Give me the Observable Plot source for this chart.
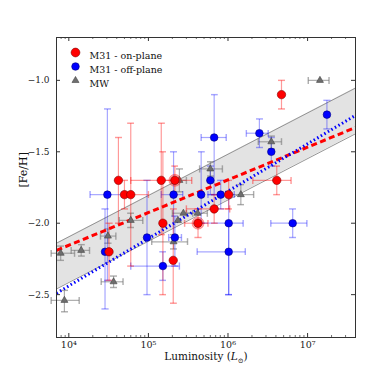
<!DOCTYPE html>
<html><head><meta charset="utf-8">
<script src="https://cdn.jsdelivr.net/npm/d3@7"></script>
<script src="https://cdn.jsdelivr.net/npm/@observablehq/plot@0.6"></script>
<style>body{margin:0;background:#fff}</style>
</head><body><div id="chart"></div>
<script>
// ---- M31 on-plane ----
const onL   = [4.7e6, 4.2e4, 5.0e4, 6.0e4, 1.45e5, 1.52e5, 2.15e5, 2.05e5, 4.2e5, 6.7e5, 1.02e6, 4.1e6, 3.2e4];
const onFe  = [-1.10, -1.70, -1.80, -1.80, -1.70, -2.00, -1.70, -2.26, -2.00, -1.90, -1.80, -1.70, -2.20];
const onYLo = [-1.20, -2.00, -1.90, -2.30, -2.08, -2.50, -1.80, -2.56, -2.10, -2.00, -1.90, -1.80, -2.40];
const onYHi = [-1.00, -1.40, -1.70, -1.30, -1.30, -1.50, -1.60, -1.90, -1.90, -1.80, -1.70, -1.60, -2.00];
const onXLo = [null, null, null, 5.5e4, 6.0e4, null, 1.5e5, null, 2.85e5, 3.0e5, null, 2.05e6, null];
const onXHi = [null, null, null, 1.0e5, 2.1e5, null, 3.5e5, null, 5.6e5, 1.05e6, null, 6.2e6, null];
const ringL  = [2.15e5, 4.2e5];
const ringFe = [-1.70, -2.00];

// ---- M31 off-plane ----
const offL   = [3.05e4, 2.85e4, 9.6e4, 1.52e5, 2.07e5, 2.15e5, 4.6e5, 6.0e5, 6.7e5, 8.1e5, 1.02e6, 1.02e6, 2.48e6, 3.5e6, 6.5e6, 1.75e7];
const offFe  = [-1.80, -2.20, -2.10, -2.30, -1.80, -2.10, -1.80, -1.70, -1.40, -1.80, -2.00, -2.20, -1.37, -1.50, -2.00, -1.24];
const offYLo = [-2.40, -2.60, -2.50, -2.40, -2.10, -2.30, -2.00, -1.80, -1.80, -1.90, -2.50, -2.50, -1.47, -1.60, -2.10, -1.34];
const offYHi = [-1.20, -1.90, -1.70, -2.20, -1.50, -1.95, -1.50, -1.60, -1.10, -1.70, -1.80, -2.00, -1.27, -1.40, -1.90, -1.14];
const offXLo = [1.85e4, null, null, 6.0e4, 1.45e5, 1.8e5, null, null, 4.6e5, 5.6e5, 4.2e5, 4.1e5, 1.7e6, null, 3.45e6, null];
const offXHi = [4.6e4, null, null, 2.45e5, 2.7e5, 2.6e5, null, null, 9.5e5, 1.2e6, 1.55e6, 1.65e6, 3.2e6, null, 9.8e6, null];

// ---- MW ----
const mwL   = [1.43e7, 7.9e3, 1.43e4, 8.8e3, 3.1e4, 3.65e4, 6.0e4, 2.07e5, 2.35e5, 2.75e5, 4.15e5, 6.0e5, 2.45e5, 1.45e6, 3.5e6];
const mwFe  = [-1.00, -2.21, -2.19, -2.54, -2.09, -2.41, -1.98, -2.13, -1.98, -1.93, -1.93, -1.62, -1.70, -1.80, -1.43];
const mwYLo = [null, -2.26, -2.23, -2.62, -2.14, -2.45, -2.03, -2.18, null, null, null, -1.67, -1.78, -1.87, -1.48];
const mwYHi = [null, -2.16, -2.15, -2.47, -2.04, -2.37, -1.93, -2.08, null, null, null, -1.57, -1.62, -1.73, -1.39];
const mwXLo = [1.02e7, 6.0e3, 1.07e4, 6.0e3, 2.5e4, 2.55e4, 4.3e4, 1.1e5, null, 2.0e5, 3.0e5, 4.4e5, 2.0e5, 1.0e6, 2.4e6];
const mwXHi = [1.86e7, 1.18e4, 1.82e4, 1.35e4, 3.9e4, 4.8e4, 8.5e4, 3.1e5, null, 3.6e5, 5.5e5, 8.5e5, 3.0e5, 2.1e6, 4.7e6];

// ---- fits & scatter band (values at the axis edges) ----
const fitX     = [7000, 4e7];
const onFitFe  = [-2.19, -1.33];
const offFitFe = [-2.49, -1.245];
const bandLo   = [-2.46, -1.374];
const bandHi   = [-2.14, -1.054];

// ---- axes ----
const xDomain = [7000, 4e7];
const yDomain = [-2.8, -0.7];
const xMajor = [1e4, 1e5, 1e6, 1e7];
const xMajorLabels = ["10⁴", "10⁵", "10⁶", "10⁷"];
const yMajor = [-1.0, -1.5, -2.0, -2.5];
const yMajorLabels = ["−1.0", "−1.5", "−2.0", "−2.5"];
const legendLabels = ["M31 - on-plane", "M31 - off-plane", "MW"];
const xLabel = "Luminosity (L⊙)";
const yLabel = "[Fe/H]";

const xMinor = d3.scaleLog().domain(xDomain).ticks().filter(v => !xMajor.includes(v));

function rows(L, Fe, yLo, yHi, xLo, xHi) {
  return L.map((l, i) => ({L: l, Fe: Fe[i], yLo: yLo[i], yHi: yHi[i], xLo: xLo[i], xHi: xHi[i]}));
}
const onRows = rows(onL, onFe, onYLo, onYHi, onXLo, onXHi);
const offRows = rows(offL, offFe, offYLo, offYHi, offXLo, offXHi);
const mwRows = rows(mwL, mwFe, mwYLo, mwYHi, mwXLo, mwXHi);
const ringRows = ringL.map((l, i) => ({L: l, Fe: ringFe[i]}));
const fitRows = fitX.map((x, i) => ({x, on: onFitFe[i], off: offFitFe[i], lo: bandLo[i], hi: bandHi[i]}));

const RED = "#ff0000", BLUE = "#0000ff", GRAY = "#6e6e6e";
const W = 374, H = 374, mT = 37, mB = 37, mL = 56, mR = 19;
const plotH = H - mT - mB, plotW = W - mL - mR;

function errMarks(data, color, op) {
  return [
    Plot.link(data.filter(d => d.yLo != null), {x1: "L", x2: "L", y1: "yLo", y2: "yHi", stroke: color, strokeOpacity: op, strokeWidth: 1.2, markerStart: "tick", markerEnd: "tick"}),
    Plot.link(data.filter(d => d.xLo != null), {x1: "xLo", x2: "xHi", y1: "Fe", y2: "Fe", stroke: color, strokeOpacity: op, strokeWidth: 1.2, markerStart: "tick", markerEnd: "tick"})
  ];
}

const font = "DejaVu Serif";
const legColors = [RED, BLUE, GRAY], legEdges = ["#800000", "#000080", "#444"], legR = [4.4, 3.8, 2.6];

const chart = Plot.plot({
  width: W, height: H,
  marginTop: mT, marginBottom: mB, marginLeft: mL, marginRight: mR,
  style: {background: "#fff", fontFamily: font},
  x: {type: "log", domain: xDomain, axis: null},
  y: {domain: yDomain, axis: null},
  marks: [
    Plot.areaY(fitRows, {x: "x", y1: "lo", y2: "hi", fill: "#e3e3e3"}),
    Plot.line(fitRows, {x: "x", y: "lo", stroke: "#8a8a8a", strokeWidth: 0.9}),
    Plot.line(fitRows, {x: "x", y: "hi", stroke: "#8a8a8a", strokeWidth: 0.9}),
    ...errMarks(mwRows, "#777", 0.6),
    ...errMarks(offRows, BLUE, 0.35),
    ...errMarks(onRows, RED, 0.4),
    Plot.line(fitRows, {x: "x", y: "on", stroke: RED, strokeWidth: 3, strokeDasharray: "6,3.5", strokeLinecap: "butt"}),
    Plot.line(fitRows, {x: "x", y: "off", stroke: BLUE, strokeWidth: 3, strokeDasharray: "1.5,2.6", strokeLinecap: "butt"}),
    Plot.dot(mwRows, {x: "L", y: "Fe", symbol: "triangle", r: 2.6, fill: GRAY, stroke: "#444", strokeWidth: 0.6}),
    Plot.dot(offRows, {x: "L", y: "Fe", r: 3.8, fill: BLUE, stroke: "#000080", strokeWidth: 0.6}),
    Plot.dot(ringRows, {x: "L", y: "Fe", r: 6, fill: RED, fillOpacity: 0.35, stroke: RED, strokeOpacity: 0.5, strokeWidth: 0.6}),
    Plot.dot(onRows, {x: "L", y: "Fe", r: 4.2, fill: RED, stroke: "#800000", strokeWidth: 0.6}),
    Plot.frame({stroke: "#333", strokeWidth: 1}),
    Plot.ruleX(xMajor, {x: d => d, insetTop: plotH - 4, stroke: "#333"}),
    Plot.ruleX(xMajor, {x: d => d, insetBottom: plotH - 4, stroke: "#333"}),
    Plot.ruleX(xMinor, {x: d => d, insetTop: plotH - 2, stroke: "#333", strokeWidth: 0.7}),
    Plot.ruleX(xMinor, {x: d => d, insetBottom: plotH - 2, stroke: "#333", strokeWidth: 0.7}),
    Plot.ruleY(yMajor, {y: d => d, insetRight: plotW - 4, stroke: "#333"}),
    Plot.ruleY(yMajor, {y: d => d, insetLeft: plotW - 4, stroke: "#333"}),
    Plot.text(xMajor, {x: d => d, frameAnchor: "bottom", dy: 10, text: (d, i) => xMajorLabels[i], fontFamily: font, fontSize: 9.5, fill: "#222"}),
    Plot.text(yMajor, {y: d => d, frameAnchor: "left", dx: -7, textAnchor: "end", text: (d, i) => yMajorLabels[i], fontFamily: font, fontSize: 9, fill: "#222"}),
    Plot.text([xLabel], {frameAnchor: "bottom", dy: 22, text: d => d, fontFamily: font, fontSize: 10.5, fill: "#111", className: "xlab"}),
    Plot.text([yLabel], {frameAnchor: "left", dx: -33, rotate: -90, text: d => d, fontFamily: font, fontSize: 11, fill: "#111"}),
    ...legendLabels.map((lab, i) => Plot.dot([lab], {frameAnchor: "top-left", dx: 19, dy: 15 + 14 * i, symbol: i === 2 ? "triangle" : "circle", r: legR[i], fill: legColors[i], stroke: legEdges[i], strokeWidth: 0.6})),
    ...legendLabels.map((lab, i) => Plot.text([lab], {frameAnchor: "top-left", dx: 33, dy: 15 + 14 * i, text: d => d, textAnchor: "start", fontFamily: font, fontSize: 9.5, fill: "#111"}))
  ]
});

d3.select(chart).selectAll("g.xlab text").each(function() {
  const t = d3.select(this);
  t.text(null);
  t.append("tspan").text("Luminosity (");
  t.append("tspan").attr("font-style", "italic").text("L");
  t.append("tspan").attr("font-size", "7").attr("dy", "3").text("⊙");
  t.append("tspan").attr("dy", "-3").text(")");
});

document.getElementById("chart").append(chart);
</script>
</body></html>
